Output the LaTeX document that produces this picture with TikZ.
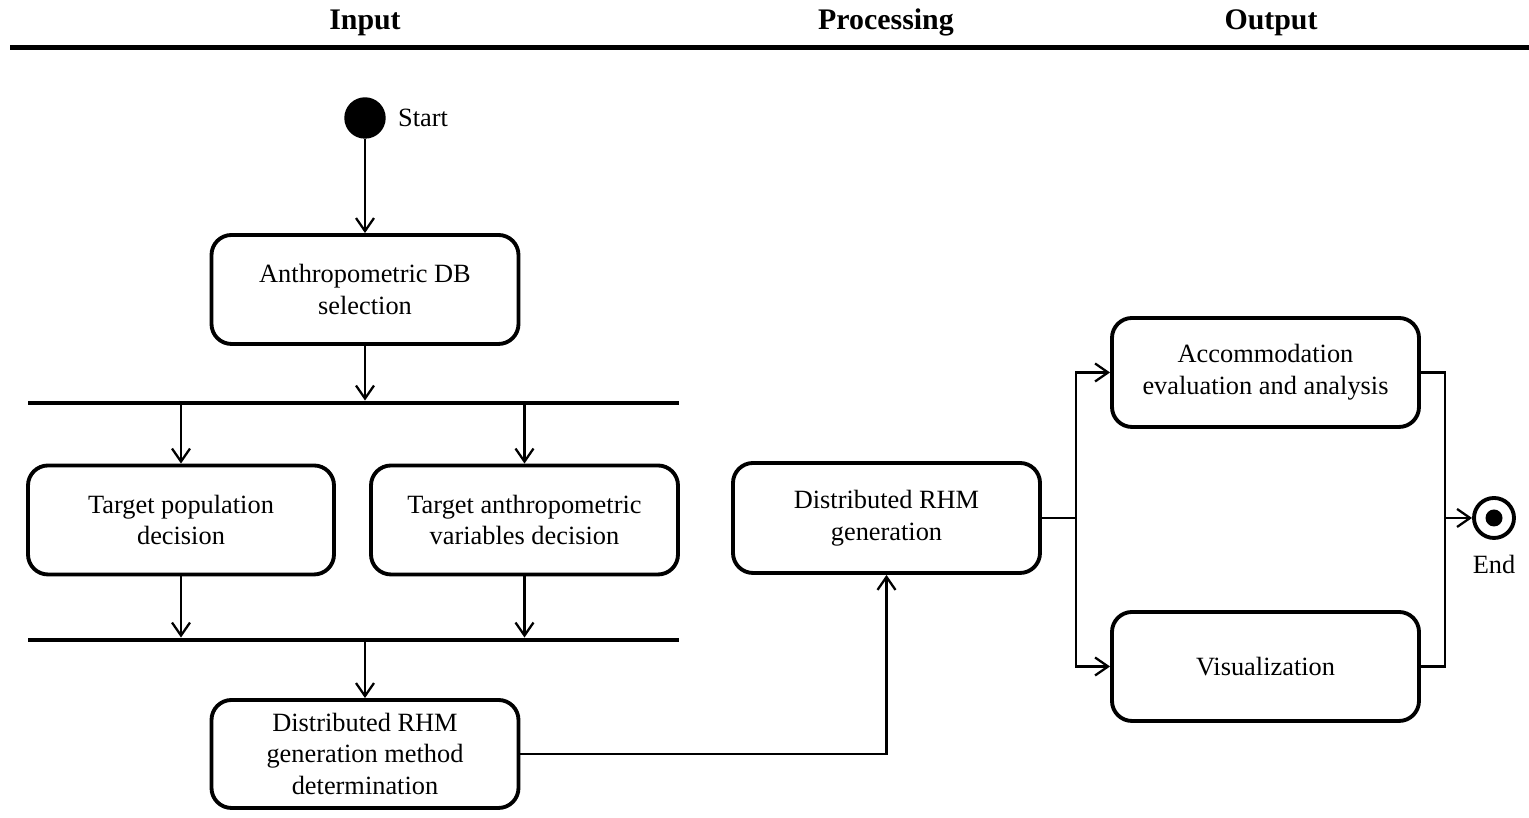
\documentclass[tikz,border=0pt]{standalone}
\usepackage{fontspec}
\setmainfont{Liberation Serif}
\usepackage{tikz}
\usetikzlibrary{positioning,arrows.meta,calc}

\begin{document}
\begin{tikzpicture}
[   actbox/.style={draw=black, line width=1.1pt, rounded corners=0.2cm, minimum width=3.07cm, minimum height=1.09cm, align=center, inner sep=1pt, font=\fontsize{7.5}{9}\selectfont},
    bar/.style={fill=black, minimum width=6.51cm, minimum height=0.035cm, inner sep=0pt},
    flow/.style={->, >={Straight Barb[length=1.3mm, width=1.8mm]}, line width=0.65pt},
    line/.style={line width=0.65pt},
    lane/.style={font=\bfseries\fontsize{8.5}{10}\selectfont}, ]

    \useasboundingbox (0,0) rectangle (15.29,8.18);

    % swimlane headers
    \node[lane] (input) at (3.65,7.955) {Input};
    \node[lane] (processing) at (8.86,7.955) {Processing};
    \node[lane] (output) at (12.71,7.955) {Output};
    \fill (0.10,7.675) rectangle (15.29,7.725);

    \node[draw=black, fill=black, circle, minimum size=0.40cm, inner sep=0pt, label={[font=\fontsize{7.5}{9}\selectfont, label distance=0cm]0:Start}] (start) at (3.65,7.00) {};

    \node[actbox] (dbsel) at (3.65,5.285) {Anthropometric DB\\selection};

    \node[bar] (fork) at (3.535,4.15) {};

    \node[actbox, minimum width=3.06cm] (popdec) at (1.81,2.98) {Target population\\decision};
    \node[actbox] (vardec) at (5.245,2.98) {Target anthropometric\\variables decision};

    \node[bar] (join) at (3.535,1.78) {};

    \node[actbox, minimum height=1.08cm] (method) at (3.65,0.64) {Distributed RHM\\generation method\\determination};

    \node[actbox, minimum height=1.10cm] (gen) at (8.865,3.00) {Distributed RHM\\generation};

    \node[actbox] (evalana) at (12.655,4.455) {Accommodation\\evaluation and analysis};
    \node[actbox] (vis) at (12.655,1.515) {Visualization};

    \node[draw=black, fill=white, circle, line width=1.1pt, minimum size=0.40cm, inner sep=0pt, label={[font=\fontsize{7.5}{9}\selectfont, label distance=0.03cm]270:End}] (end) at (14.94,3.00) {};
    \node[fill=black, circle, minimum size=0.17cm, inner sep=0pt] (enddot) at (end) {};

    \coordinate (split) at (10.76,3.00);
    \coordinate (merge) at (14.45,3.00);

    \draw[flow] (start) -- (dbsel);
    \draw[flow] (dbsel.south) -- (dbsel.south |- fork.north);
    \draw[flow] (popdec.north |- fork.south) -- (popdec.north);
    \draw[flow] (vardec.north |- fork.south) -- (vardec.north);
    \draw[flow] (popdec.south) -- (popdec.south |- join.north);
    \draw[flow] (vardec.south) -- (vardec.south |- join.north);
    \draw[flow] (method.north |- join.south) -- (method.north);
    \draw[flow] (method.east) -| (gen.south);

    \draw[line] (gen.east) -- (split);
    \draw[flow] (split) |- (evalana.west);
    \draw[flow] (split) |- (vis.west);

    \draw[line] (evalana.east) -| (merge);
    \draw[line] (vis.east) -| (merge);
    \draw[flow] (merge) -- (end);

\end{tikzpicture}
\end{document}
